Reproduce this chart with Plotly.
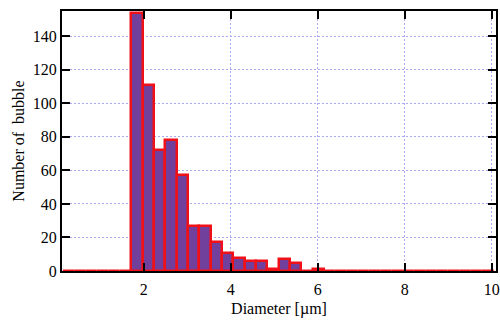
import plotly.graph_objects as go

# Histogram data
bin_start = 0.15
bin_width = 0.2605
counts = [0, 0, 0, 0, 0, 0,
          154, 111, 72, 78, 57, 27, 27, 17, 11, 8, 6, 6, 1, 7, 5,
          0, 1,
          0, 0, 0, 0, 0, 0, 0, 0, 0, 0, 0, 0, 0, 0, 0]
x_ticks = [2, 4, 6, 8, 10]
y_ticks = [0, 20, 40, 60, 80, 100, 120, 140]

centers = [bin_start + (i + 0.5) * bin_width for i in range(len(counts))]

fig = go.Figure()
fig.add_trace(go.Bar(
    x=centers, y=counts, width=bin_width,
    marker=dict(color="rgb(112,64,156)", line=dict(color="#f01018", width=2.5)),
    showlegend=False,
))

font = dict(family="Liberation Serif, Times New Roman, serif", size=16, color="black")
grid = "rgb(170,170,242)"

fig.update_layout(
    width=500, height=322,
    margin=dict(l=62, r=4, t=11, b=51, autoexpand=False),
    paper_bgcolor="white", plot_bgcolor="white",
    font=font, bargap=0,
    xaxis=dict(
        range=[0.12, 10.1], tickvals=x_ticks, ticktext=[str(v) for v in x_ticks],
        ticks="inside", ticklen=8, tickwidth=2, tickcolor="black",
        showline=True, linecolor="black", linewidth=2, mirror="ticks",
        showgrid=True, gridcolor=grid, griddash="2px,2px", gridwidth=1,
        zeroline=False, automargin=False, ticklabelstandoff=3,
        title=dict(text="Diameter [µm]", font=font, standoff=6),
    ),
    yaxis=dict(
        range=[0, 155], tickvals=y_ticks,
        ticks="inside", ticklen=8, tickwidth=2, tickcolor="black",
        showline=True, linecolor="black", linewidth=2, mirror="ticks",
        showgrid=True, gridcolor=grid, griddash="2px,2px", gridwidth=1,
        zeroline=False, automargin=False,
        title=dict(text="Number of  bubble", font=font, standoff=4),
    ),
)

fig.write_html("out.html", config={"displayModeBar": False},
               post_script="document.body.style.margin='0';")
